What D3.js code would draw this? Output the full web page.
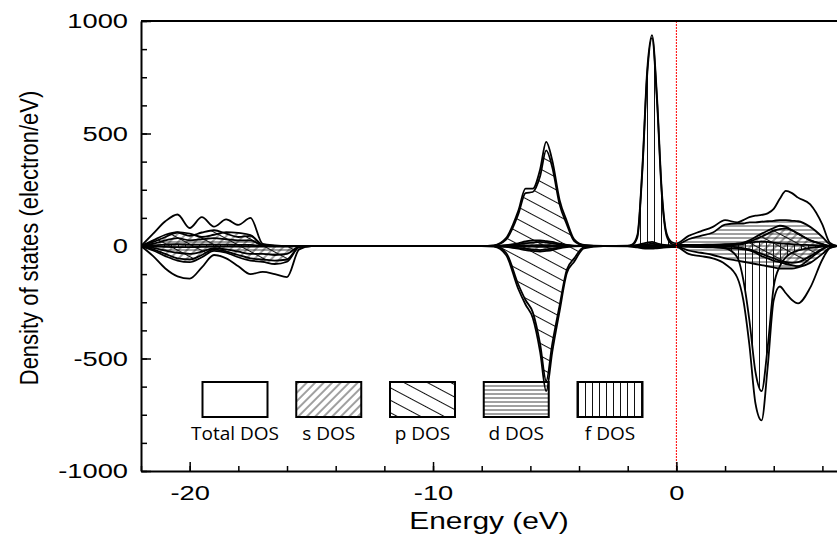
<!DOCTYPE html>
<html>
<head>
<meta charset="utf-8">
<script src="https://cdn.jsdelivr.net/npm/d3@7"></script>
<style>
  body { margin: 0; background: #fff; }
  svg { display: block; }
</style>
</head>
<body>
<svg id="chart" width="837" height="548"></svg>
<script>
// energy grid (eV), shared by every series
var energies = [-22, -21.5, -21, -20.5, -20, -19.5, -19, -18.5, -18, -17.5, -17, -16.5, -16, -15.5, -15,
    -10, -8, -7.5, -7, -6.5, -6.2, -5.9, -5.6, -5.35, -5.1, -4.8, -4.5, -4.2, -3.8, -3,
    -2, -1.8, -1.6, -1.4, -1.2, -1, -0.8, -0.6, -0.4, -0.2, 0,
    0.5, 1, 1.5, 2, 2.5, 2.75, 3, 3.25, 3.5, 3.75, 4, 4.25, 4.5, 4.75, 5, 5.5, 6, 6.3, 6.6];

// spin up (positive)
var totalUp = [0, 55, 110, 140, 80, 128, 86, 118, 94, 125, 10, 3, 0, 0, 0,
    0, 0, 3, 35, 155, 255, 255, 340, 463, 380, 205, 110, 30, 5, 0,
    2, 8, 50, 345, 780, 937, 670, 245, 55, 18, 12,
    45, 65, 85, 115, 105, 115, 128, 135, 138, 145, 165, 210, 245, 235, 215, 185, 95, 15, 0];
var sUp = [0, 25, 50, 62, 55, 40, 50, 62, 58, 48, 6, 0, 0, 0, 0,
    0, 0, 0, 3, 8, 12, 15, 18, 15, 12, 6, 3, 0, 0, 0,
    0, 0, 0, 2, 3, 4, 3, 2, 1, 0, 0,
    0, 0, 0, 2, 5, 10, 18, 30, 42, 55, 68, 75, 78, 70, 55, 25, 8, 0, 0];
var pUp = [0, 18, 40, 60, 45, 60, 70, 55, 40, 45, 4, 0, 0, 0, 0,
    0, 0, 2, 28, 140, 235, 240, 310, 425, 350, 185, 95, 22, 3, 0,
    0, 0, 2, 5, 8, 10, 8, 5, 2, 1, 1,
    3, 5, 6, 8, 10, 15, 25, 40, 55, 68, 80, 90, 85, 70, 55, 25, 8, 0, 0];
var dUp = [0, 10, 25, 35, 25, 30, 35, 30, 25, 25, 2, 0, 0, 0, 0,
    0, 0, 0, 4, 12, 20, 25, 25, 22, 18, 10, 5, 2, 0, 0,
    0, 2, 5, 10, 15, 18, 12, 6, 4, 4, 5,
    30, 45, 60, 95, 100, 100, 105, 105, 108, 110, 112, 115, 115, 112, 110, 85, 40, 8, 0];
var fUp = [0, 3, 6, 8, 6, 6, 6, 6, 5, 5, 0, 0, 0, 0, 0,
    0, 0, 0, 0, 2, 3, 3, 4, 4, 3, 2, 1, 0, 0, 0,
    0, 5, 40, 330, 760, 925, 650, 230, 45, 10, 5,
    5, 5, 5, 6, 10, 12, 15, 18, 20, 18, 15, 12, 10, 8, 6, 4, 2, 0, 0];

// spin down (negative)
var totalDown = [0, -45, -100, -135, -145, -95, -40, -55, -90, -125, -115, -125, -138, -15, 0,
    0, 0, -3, -40, -190, -260, -320, -470, -645, -470, -290, -120, -70, -10, 0,
    -2, -4, -6, -10, -12, -12, -10, -8, -6, -5, -5,
    -35, -45, -55, -80, -140, -240, -440, -700, -775, -540, -240, -180, -210, -240, -255, -185, -60, -10, 0];
var sDown = [0, -20, -45, -65, -72, -50, -22, -30, -50, -65, -70, -80, -70, -5, 0,
    0, 0, 0, -3, -8, -12, -15, -18, -15, -12, -6, -3, 0, 0, 0,
    0, 0, 0, -1, -2, -2, -2, -1, -1, 0, 0,
    0, 0, 0, -2, -5, -10, -15, -25, -35, -45, -55, -65, -72, -75, -72, -45, -12, 0, 0];
var pDown = [0, -15, -35, -55, -60, -40, -15, -25, -40, -55, -60, -65, -60, -4, 0,
    0, 0, 0, -30, -170, -240, -295, -435, -600, -435, -265, -105, -55, -5, 0,
    0, 0, -1, -2, -3, -3, -3, -2, -1, 0, 0,
    -3, -5, -6, -8, -12, -15, -20, -30, -45, -55, -65, -72, -80, -85, -90, -55, -15, 0, 0];
var dDown = [0, -8, -20, -30, -35, -25, -10, -15, -25, -35, -35, -40, -35, -3, 0,
    0, 0, 0, -4, -12, -18, -22, -25, -22, -18, -10, -5, -2, 0, 0,
    0, -2, -4, -6, -8, -8, -6, -4, -3, -3, -3,
    -20, -30, -40, -55, -65, -70, -75, -80, -85, -90, -95, -100, -100, -100, -95, -75, -35, -8, 0];
var fDown = [0, -2, -4, -5, -5, -4, -3, -3, -3, -3, -3, -3, -3, 0, 0,
    0, 0, 0, 0, -2, -3, -3, -4, -4, -3, -2, -1, 0, 0, 0,
    0, -1, -2, -4, -6, -8, -6, -4, -2, -2, -2,
    -3, -4, -5, -10, -50, -150, -330, -560, -645, -450, -180, -90, -50, -30, -20, -8, -3, 0, 0];

var legendNames = ["Total DOS", "s DOS", "p DOS", "d DOS", "f DOS"];
var xMajorTicks = [-20, -10, 0];
var xMinorTicks = d3.range(-22, 7, 2);
var yMajorTicks = [-1000, -500, 0, 500, 1000];
var yMinorTicks = d3.range(-1000, 1001, 125);

var svg = d3.select('#chart');
var plotLeft = 141, plotRight = 837, plotTop = 21, plotBottom = 471;
var stretch = 1.3; // the picture's text is wide

var x = d3.scaleLinear().domain([-22, 6.6]).range([plotLeft, plotRight]);
var y = d3.scaleLinear().domain([-1000, 1000]).range([plotBottom, plotTop]);

var defs = svg.append('defs');
defs.append('clipPath').attr('id', 'clip')
    .append('rect')
    .attr('x', plotLeft).attr('y', plotTop)
    .attr('width', plotRight - plotLeft).attr('height', plotBottom - plotTop);

function hatch(id, spacing, angle, width) {
    var p = defs.append('pattern')
        .attr('id', id)
        .attr('patternUnits', 'userSpaceOnUse')
        .attr('width', 10)
        .attr('height', spacing)
        .attr('patternTransform', 'rotate(' + angle + ')');
    p.append('line')
        .attr('x1', 0).attr('x2', 10)
        .attr('y1', spacing / 2).attr('y2', spacing / 2)
        .attr('stroke', '#111')
        .attr('stroke-width', width);
}
hatch('hs', 6, -45, 0.8);
hatch('hp', 11, 28, 1);
hatch('hd', 4, 0, 0.8);
hatch('hf', 7, 90, 1);

var series = [
    {name: legendNames[0], up: totalUp, down: totalDown, fill: 'none'},
    {name: legendNames[1], up: sUp, down: sDown, fill: 'url(#hs)'},
    {name: legendNames[2], up: pUp, down: pDown, fill: 'url(#hp)'},
    {name: legendNames[3], up: dUp, down: dDown, fill: 'url(#hd)'},
    {name: legendNames[4], up: fUp, down: fDown, fill: 'url(#hf)'}
];

var area = d3.area()
    .x(function (d) { return x(d[0]); })
    .y0(y(0))
    .y1(function (d) { return y(d[1]); })
    .curve(d3.curveMonotoneX);
var line = d3.line()
    .x(function (d) { return x(d[0]); })
    .y(function (d) { return y(d[1]); })
    .curve(d3.curveMonotoneX);

var plot = svg.append('g').attr('clip-path', 'url(#clip)');

series.forEach(function (s) {
    [s.up, s.down].forEach(function (vals) {
        var pts = energies.map(function (e, i) { return [e, vals[i]]; });
        if (s.fill !== 'none') {
            plot.append('path').datum(pts)
                .attr('d', area)
                .attr('fill', s.fill)
                .attr('stroke', 'none');
        }
    });
});
series.forEach(function (s) {
    [s.up, s.down].forEach(function (vals) {
        var pts = energies.map(function (e, i) { return [e, vals[i]]; });
        plot.append('path').datum(pts)
            .attr('d', line)
            .attr('fill', 'none')
            .attr('stroke', '#000')
            .attr('stroke-width', 1.8);
    });
});

// Fermi level
svg.append('line')
    .attr('x1', x(0)).attr('x2', x(0))
    .attr('y1', y(1000)).attr('y2', y(-1000))
    .attr('stroke', 'red')
    .attr('stroke-width', 1)
    .attr('stroke-dasharray', '2,1');

// axes
var fmt = function (d) { return String(d); };

svg.append('g')
    .attr('transform', 'translate(0,' + plotBottom + ')')
    .call(d3.axisBottom(x).tickValues(xMinorTicks).tickSize(-5).tickFormat(''))
    .call(function (g) { g.select('.domain').remove(); });
var xAxis = svg.append('g')
    .attr('transform', 'translate(0,' + plotBottom + ')')
    .call(d3.axisBottom(x).tickValues(xMajorTicks).tickSizeInner(-9).tickSizeOuter(0)
        .tickPadding(14).tickFormat(fmt));

svg.append('g')
    .attr('transform', 'translate(' + plotLeft + ',0)')
    .call(d3.axisLeft(y).tickValues(yMinorTicks).tickSize(-6).tickFormat(''))
    .call(function (g) { g.select('.domain').remove(); });
var yAxis = svg.append('g')
    .attr('transform', 'translate(' + plotLeft + ',0)')
    .call(d3.axisLeft(y).tickValues(yMajorTicks).tickSizeInner(-10).tickSizeOuter(0)
        .tickPadding(0).tickFormat(fmt));

svg.selectAll('.tick line').attr('stroke', '#000').attr('stroke-width', 1.5);
[xAxis, yAxis].forEach(function (g) {
    g.select('.domain').attr('stroke', '#000').attr('stroke-width', 2);
    g.selectAll('text')
        .attr('font-family', 'Liberation Sans, Arial, sans-serif')
        .attr('font-size', 21)
        .attr('fill', '#000');
});
xAxis.selectAll('text').attr('transform', 'scale(' + stretch + ',1)');
yAxis.selectAll('text').attr('x', -13 / stretch).attr('transform', 'scale(' + stretch + ',1)');

// top frame line
svg.append('line')
    .attr('x1', plotLeft).attr('x2', plotRight)
    .attr('y1', plotTop).attr('y2', plotTop)
    .attr('stroke', '#000').attr('stroke-width', 2);

// axis titles
svg.append('text')
    .attr('transform', 'translate(' + ((plotLeft + plotRight) / 2) + ',529) scale(' + stretch + ',1)')
    .attr('text-anchor', 'middle')
    .attr('font-family', 'Liberation Sans, Arial, sans-serif')
    .attr('font-size', 23)
    .text('Energy (eV)');
svg.append('text')
    .attr('transform', 'translate(38,238) rotate(-90) scale(1,1.2)')
    .attr('text-anchor', 'middle')
    .attr('font-family', 'Liberation Sans, Arial, sans-serif')
    .attr('font-size', 22)
    .text('Density of states (electron/eV)');

// legend
var lx = d3.scalePoint().domain(legendNames).range([235, 610]);
var boxW = 65, boxH = 35, boxTop = 382;
var leg = svg.append('g').selectAll('g')
    .data(series)
    .enter()
    .append('g')
    .attr('transform', function (d) { return 'translate(' + lx(d.name) + ',0)'; });
leg.append('rect')
    .attr('x', -boxW / 2).attr('y', boxTop)
    .attr('width', boxW).attr('height', boxH)
    .attr('fill', function (d) { return d.fill === 'none' ? '#fff' : d.fill; })
    .attr('stroke', '#000')
    .attr('stroke-width', 2);
leg.append('text')
    .attr('y', boxTop + boxH + 23)
    .attr('text-anchor', 'middle')
    .attr('font-family', 'Open Sans, Noto Sans, sans-serif')
    .attr('font-size', 19)
    .text(function (d) { return d.name; });
</script>
</body>
</html>
